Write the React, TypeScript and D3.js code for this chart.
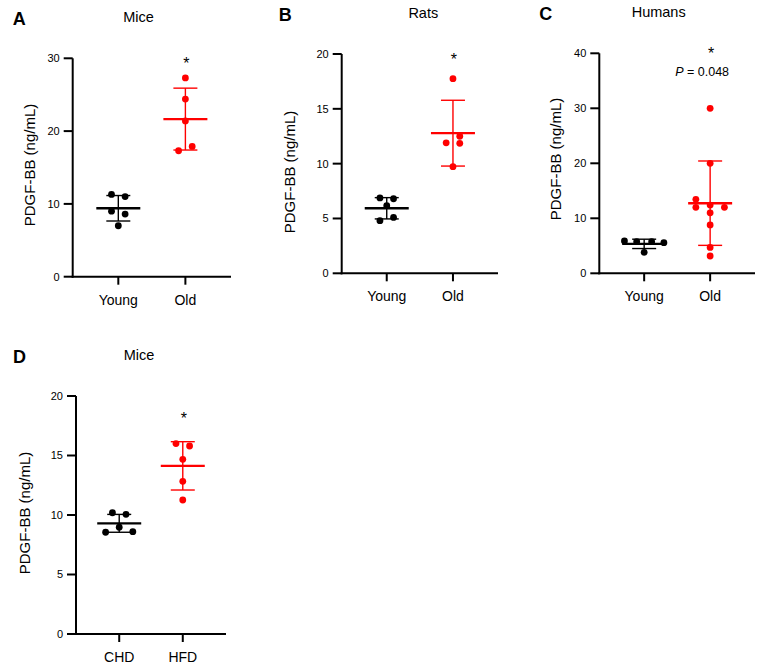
import * as d3 from "d3"

// ---- data (ng/mL) ----
const ageCategories = ["Young", "Old"]
const dietCategories = ["CHD", "HFD"]

const miceYoung = [11.3, 11.0, 9.0, 8.6, 7.0]
const miceYoungLane = [-1, 1, -1, 1, 0]
const miceOld = [27.3, 24.4, 21.4, 17.9, 17.3]
const miceOldLane = [0, 0, 0, 1, -1]
const miceMean = [9.4, 21.65]
const miceSd = [1.75, 4.25]

const ratsYoung = [6.87, 6.8, 6.17, 5.1, 4.8]
const ratsYoungLane = [-1, 1, 0, 1, -1]
const ratsOld = [17.75, 12.5, 11.9, 11.85, 9.72]
const ratsOldLane = [0, 1, -1, 1, 0]
const ratsMean = [5.93, 12.78]
const ratsSd = [0.97, 3.0]

const humansYoung = [5.87, 5.75, 5.75, 5.56, 3.82]
const humansYoungLane = [-2.9, -1.1, 1.1, 2.9, 0]
const humansOld = [30, 20, 13.45, 12.0, 12.4, 12.0, 11.0, 8.8, 4.7, 3.15]
const humansOldLane = [0, 0, -2.1, -2.1, 0, 2.1, 0, 0, 0, 0]
const humansMean = [5.35, 12.75]
const humansSd = [0.85, 7.67]

const dietChd = [10.19, 10.06, 8.97, 8.55, 8.6]
const dietChdLane = [-1, 1, 0, -2, 2]
const dietHfd = [16.0, 15.8, 14.68, 12.83, 11.26]
const dietHfdLane = [-1, 1, 0, 0, 0]
const dietMean = [9.3, 14.13]
const dietSd = [0.75, 2.03]

const ticks30 = [0, 10, 20, 30]
const ticks20 = [0, 5, 10, 15, 20]
const ticks40 = [0, 10, 20, 30, 40]

const BLACK = "#000000"
const RED = "#ff0000"
const FONT = "'Liberation Sans', Arial, Helvetica, sans-serif"

type Group = { values: number[]; lanes: number[]; mean: number; sd: number; color: string }

type PanelProps = {
  letter: string
  title: string
  titleX: number
  axisX: number
  xEnd: number
  yTop: number
  yBottom: number
  max: number
  ticks: number[]
  categories: string[]
  groups: Group[]
  labelOffset: number
  labelY: number
  starDy: number
  pText?: string
}

const LANE = 6.8
const R = 3.4

function Panel(p: PanelProps) {
  const y = d3.scaleLinear().domain([0, p.max]).range([p.yBottom, p.yTop])
  const x = d3.scalePoint<string>().domain(p.categories).range([p.axisX, p.xEnd]).padding(0.68)
  const oldX = x(p.categories[1]) as number

  return (
    <g fontFamily={FONT}>
      <text x={p.axisX - 60 + (p.letter === "B" || p.letter === "D" ? -3 : 0)} y={p.yTop - 33} fontSize={18} fontWeight="bold">
        {p.letter}
      </text>
      <text x={p.titleX} y={p.yTop - 36} fontSize={14.5} textAnchor="middle">
        {p.title}
      </text>
      <text
        transform={`translate(${p.axisX - p.labelOffset},${p.labelY}) rotate(-90)`}
        fontSize={15}
        textAnchor="middle"
      >
        PDGF-BB (ng/mL)
      </text>

      {/* y axis */}
      <line x1={p.axisX} x2={p.axisX} y1={p.yTop} y2={p.yBottom + 1} stroke="#000" strokeWidth={2} />
      {p.ticks.map((t) => (
        <g key={t}>
          <line x1={p.axisX - 9} x2={p.axisX} y1={y(t)} y2={y(t)} stroke="#000" strokeWidth={2} />
          <text x={p.axisX - 13} y={y(t)} dy="0.35em" fontSize={11} textAnchor="end">
            {t}
          </text>
        </g>
      ))}

      {/* x axis */}
      <line x1={p.axisX - 1} x2={p.xEnd} y1={p.yBottom} y2={p.yBottom} stroke="#000" strokeWidth={2} />
      {p.categories.map((c) => (
        <g key={c}>
          <line x1={x(c)} x2={x(c)} y1={p.yBottom} y2={p.yBottom + 8} stroke="#000" strokeWidth={2} />
          <text x={x(c)} y={p.yBottom + 28} fontSize={14} textAnchor="middle">
            {c}
          </text>
        </g>
      ))}

      {/* groups */}
      {p.groups.map((g, gi) => {
        const cx = x(p.categories[gi]) as number
        const hi = y(g.mean + g.sd)
        const lo = y(Math.max(0, g.mean - g.sd))
        return (
          <g key={gi}>
            <line x1={cx} x2={cx} y1={hi} y2={lo} stroke={g.color} strokeWidth={1.4} />
            <line x1={cx - 12} x2={cx + 12} y1={hi} y2={hi} stroke={g.color} strokeWidth={1.4} />
            <line x1={cx - 12} x2={cx + 12} y1={lo} y2={lo} stroke={g.color} strokeWidth={1.4} />
            {g.values.map((v, i) => (
              <circle key={i} cx={cx + g.lanes[i] * LANE} cy={y(v)} r={R} fill={g.color} />
            ))}
            <line x1={cx - 22} x2={cx + 22} y1={y(g.mean)} y2={y(g.mean)} stroke={g.color} strokeWidth={2.4} />
          </g>
        )
      })}

      {/* significance */}
      <text x={oldX + 1} y={y(p.max) + p.starDy} fontSize={16} textAnchor="middle">
        *
      </text>
      {p.pText && (
        <text x={oldX - 8} y={y(p.max) + 23} fontSize={12.5} textAnchor="middle">
          <tspan fontStyle="italic">P</tspan> = {p.pText}
        </text>
      )}
    </g>
  )
}

export default function App() {
  return (
    <svg
      width={767}
      height={672}
      style={{ position: "absolute", left: 0, top: 0, background: "#fff" }}
    >
      <Panel
        letter="A"
        title="Mice"
        titleX={138.5}
        axisX={72.7}
        xEnd={231}
        yTop={58.3}
        yBottom={276.7}
        max={30}
        ticks={ticks30}
        categories={ageCategories}
        labelOffset={38}
        labelY={165}
        starDy={10.5}
        groups={[
          { values: miceYoung, lanes: miceYoungLane, mean: miceMean[0], sd: miceSd[0], color: BLACK },
          { values: miceOld, lanes: miceOldLane, mean: miceMean[1], sd: miceSd[1], color: RED },
        ]}
      />
      <Panel
        letter="B"
        title="Rats"
        titleX={423.3}
        axisX={341.7}
        xEnd={498}
        yTop={54}
        yBottom={273.3}
        max={20}
        ticks={ticks20}
        categories={ageCategories}
        labelOffset={47}
        labelY={172}
        starDy={10.5}
        groups={[
          { values: ratsYoung, lanes: ratsYoungLane, mean: ratsMean[0], sd: ratsSd[0], color: BLACK },
          { values: ratsOld, lanes: ratsOldLane, mean: ratsMean[1], sd: ratsSd[1], color: RED },
        ]}
      />
      <Panel
        letter="C"
        title="Humans"
        titleX={658.7}
        axisX={599.3}
        xEnd={755}
        yTop={53.3}
        yBottom={273.3}
        max={40}
        ticks={ticks40}
        categories={ageCategories}
        labelOffset={38}
        labelY={159}
        starDy={6}
        pText="0.048"
        groups={[
          { values: humansYoung, lanes: humansYoungLane, mean: humansMean[0], sd: humansSd[0], color: BLACK },
          { values: humansOld, lanes: humansOldLane, mean: humansMean[1], sd: humansSd[1], color: RED },
        ]}
      />
      <Panel
        letter="D"
        title="Mice"
        titleX={139}
        axisX={76}
        xEnd={226}
        yTop={396}
        yBottom={634}
        max={20}
        ticks={ticks20}
        categories={dietCategories}
        labelOffset={46}
        labelY={513}
        starDy={28}
        groups={[
          { values: dietChd, lanes: dietChdLane, mean: dietMean[0], sd: dietSd[0], color: BLACK },
          { values: dietHfd, lanes: dietHfdLane, mean: dietMean[1], sd: dietSd[1], color: RED },
        ]}
      />
    </svg>
  )
}
